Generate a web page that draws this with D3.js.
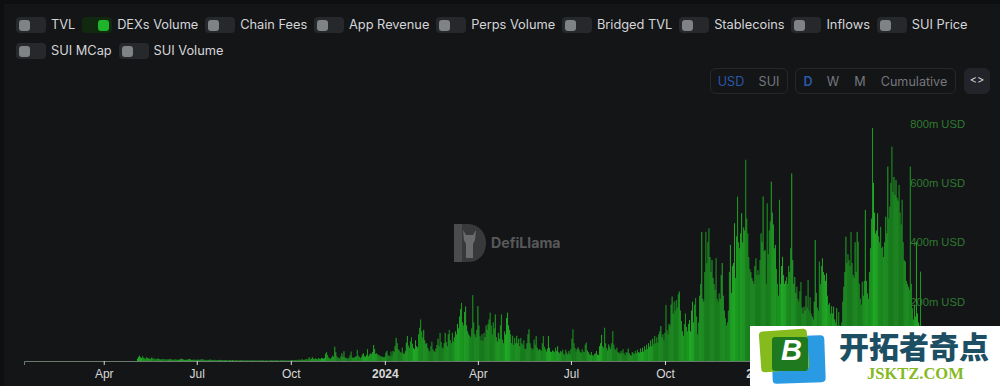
<!DOCTYPE html>
<html><head><meta charset="utf-8">
<script src="https://cdn.jsdelivr.net/npm/d3@7/dist/d3.min.js"></script>
<style>
html,body{margin:0;padding:0;background:#0e0f11;width:1000px;height:386px;overflow:hidden}
#page{position:absolute;left:4px;top:4px;width:996px;height:382px;background:#141517}
#legend{position:absolute;left:16px;top:17px;width:975px;display:flex;flex-wrap:wrap;column-gap:6.8px;row-gap:10px;font:12.8px/16px Inter,sans-serif;color:#d4d6da}
.item{display:flex;align-items:center;gap:5px;height:16px}
.track{width:30px;height:16px;border-radius:4px;background:#26282b;position:relative}
.knob{position:absolute;left:3px;top:2.5px;width:11px;height:11px;border-radius:3px;background:#808386}
.on .track{background:#10290f}.on .knob{left:16px;background:#1fb52a}
.grp{position:absolute;top:68px;height:26px;box-sizing:border-box;border:1px solid #26282c;border-radius:6px}
.btn{position:absolute;top:0;font:12.6px/25px Inter,sans-serif;color:#74777c;transform:translateX(-50%);white-space:nowrap}
.btn.sel{color:#2a58a8}
#code{position:absolute;left:964px;top:68px;width:26px;height:26px;border-radius:6px;background:#22242a;color:#d4d6da;font:11px/25px Inter,sans-serif;text-align:center}
svg{position:absolute;left:0;top:0}
</style></head><body>
<div id="page"></div>
<div id="legend"></div>
<div class="grp" style="left:710px;width:78px"><span class="btn sel" style="left:20px">USD</span><span class="btn" style="left:58px">SUI</span></div>
<div class="grp" style="left:795px;width:161px"><span class="btn sel" style="left:12px;font-weight:600">D</span><span class="btn" style="left:37px">W</span><span class="btn" style="left:64px">M</span><span class="btn" style="left:118px">Cumulative</span></div>
<div id="code">&lt;&gt;</div>
<svg id="chart" width="1000" height="386"></svg>
<script>
const legendNames=["TVL","DEXs Volume","Chain Fees","App Revenue","Perps Volume","Bridged TVL","Stablecoins","Inflows","SUI Price","SUI MCap","SUI Volume"];
const activeSeries=["DEXs Volume"];
const yTicks=[200,400,600,800];
const xTickDates=["2023-04-01","2023-07-01","2023-10-01","2024-01-01","2024-04-01","2024-07-01","2024-10-01","2025-01-01","2025-04-01"];
// Daily DEX volume in million USD, one array per month
const v2305=[8,14,18,12,10,16,11,9,8,13,10,9,7,8,12,9,7,8,6,7,9,7,6,5,6,7,6,5];
const v2306=[6,5,5,6,7,5,4,5,4,6,5,4,4,5,6,8,6,5,4,4,5,4,6,7,5,4,4,5,4,4];
const v2307=[4,5,4,4,5,6,5,4,4,3,4,3,4,5,4,3,3,4,4,3,3,3,4,3,3,3,2,3,3,3,2];
const v2308=[2,3,2,2,3,2,2,2,3,2,2,2,2,3,2,2,2,2,3,2,2,2,2,2,2,2,2,2,2,2,2];
const v2309=[2,2,2,2,1,2,2,2,1,2,2,2,2,1,2,2,2,2,2,1,2,2,2,2,2,2,2,2,2,2];
const v2310=[2,3,3,2,3,4,3,3,5,3,4,6,4,3,5,7,4,8,13,6,7,13,8,6,9,7,6,10,8,7,11];
const v2311=[9,8,10,25,30,20,12,9,8,12,18,14,48,30,16,12,10,9,16,26,14,33,12,10,9,8,12,20,32,12];
const v2312=[10,12,14,16,38,18,14,10,14,22,26,16,14,20,40,16,22,26,24,30,54,40,24,26,22,20,18,16,15,14,12];
const v2401=[14,28,34,20,18,16,32,18,34,30,50,78,60,40,36,30,28,45,26,24,34,62,84,52,44,66,80,58,44,40,70];
const v2402=[50,46,90,112,140,100,80,105,70,58,60,44,36,32,50,65,40,34,30,42,54,75,50,95,64,46,42,60,95];
const v2403=[64,50,90,105,70,60,95,66,80,100,90,125,110,150,175,196,130,120,165,184,120,100,90,85,80,110,222,130,90,80,105];
const v2404=[185,120,84,70,90,68,95,80,120,105,125,140,163,120,90,130,110,157,80,66,95,75,120,157,72,60,100,90,145,163];
const v2405=[120,105,90,60,85,55,78,60,85,60,75,50,78,60,55,70,42,40,60,90,107,60,45,38,42,72,55,84,45,36,40];
const v2406=[38,34,60,84,48,40,32,42,84,45,32,30,36,34,30,45,34,50,30,26,34,30,38,24,22,38,28,22,34,24];
const v2407=[40,75,107,60,44,32,40,46,38,30,28,40,32,30,55,62,36,30,24,20,30,20,18,24,26,34,22,20,50,60,88];
const v2408=[50,45,112,60,44,36,56,48,40,60,101,55,40,38,45,30,28,24,34,26,40,26,20,30,28,42,26,20,18,30,26];
const v2409=[24,34,26,38,30,28,42,30,45,32,50,38,55,40,60,48,70,50,75,56,84,60,80,62,90,100,118,80,90,70];
const v2410=[95,189,105,90,125,120,190,217,160,200,170,205,180,225,234,170,135,100,85,125,160,115,100,125,138,100,170,200,130,190,212];
const v2411=[150,90,130,220,260,435,210,200,300,435,330,400,447,350,300,340,280,260,240,347,210,200,228,210,290,330,220,170,145,120];
const v2412=[130,170,300,391,230,320,330,464,280,420,554,400,380,430,498,400,450,440,678,480,430,350,310,300,280,270,260,320,346,290,306];
const v2501=[290,340,430,400,554,370,374,260,531,360,440,470,604,500,460,380,391,310,260,220,543,260,320,351,290,260,270,283,260,320,300];
const v2502=[380,632,340,260,283,230,250,210,200,235,266,180,160,183,170,220,180,273,170,215,160,150,140,200,408,230,180,170];
const v2503=[335,260,320,346,300,290,270,296,220,190,195,160,185,160,183,140,130,178,120,165,120,100,130,200,250,300,419,330,360,340,320];
const v2504=[435,330,290,280,400,300,435,402,260,210,190,267,220,270,509,270,228,210,300,380,480,785,600,500,430,440,498,420,400,452];
const v2505=[380,385,350,400,486,430,655,480,520,600,722,570,620,560,610,550,540,593,500,460,543,400,340,335,270,260,250,240,655,260,178];
const v2506=[140,190,150,402,160,130,120,301,110,90];
const monthly=[["2023-05-04",v2305],["2023-06-01",v2306],["2023-07-01",v2307],["2023-08-01",v2308],["2023-09-01",v2309],["2023-10-01",v2310],["2023-11-01",v2311],["2023-12-01",v2312],["2024-01-01",v2401],["2024-02-01",v2402],["2024-03-01",v2403],["2024-04-01",v2404],["2024-05-01",v2405],["2024-06-01",v2406],["2024-07-01",v2407],["2024-08-01",v2408],["2024-09-01",v2409],["2024-10-01",v2410],["2024-11-01",v2411],["2024-12-01",v2412],["2025-01-01",v2501],["2025-02-01",v2502],["2025-03-01",v2503],["2025-04-01",v2504],["2025-05-01",v2505],["2025-06-01",v2506]];
const series=monthly.flatMap(([s,a])=>a.map((v,i)=>({date:d3.utcDay.offset(new Date(s+"T00:00:00Z"),i),value:v})));

const items=d3.select("#legend").selectAll(".item").data(legendNames).join("div")
  .attr("class",d=>"item"+(activeSeries.includes(d)?" on":""));
items.append("div").attr("class","track").append("div").attr("class","knob");
items.append("span").text(d=>d);

const svg=d3.select("#chart");
const x=d3.scaleUtc().domain([new Date("2023-01-13T00:00:00Z"),new Date("2025-06-11T00:00:00Z")]).range([24,923.6]);
const y=d3.scaleLinear().domain([0,800]).range([361,123.5]);
const step=x(new Date("2024-01-02T00:00:00Z"))-x(new Date("2024-01-01T00:00:00Z"));

const wm=svg.append("g");
wm.append("path").attr("d","M454 224H468C480 224 486 234 486 243C486 253 480 262 468 262H454Z").attr("fill","#38393b");
wm.append("path").attr("d","M454 224H462V262H454Z").attr("fill","#4b4c4e");
wm.append("path").attr("d","M463 230L466 235H473L476 230L475 240L473 244V258H466V244L464 240Z").attr("fill","#6a6b6d");
wm.append("text").attr("x",491).attr("y",248).attr("font-family","Inter,sans-serif").attr("font-weight",700).attr("font-size",14.2).attr("fill","#58595b").text("DefiLlama");

const xAxis=d3.axisBottom(x).tickValues(xTickDates.map(d=>new Date(d+"T00:00:00Z"))).tickSize(4).tickPadding(4)
  .tickFormat(d=>d.getUTCMonth()===0?d.getUTCFullYear():d3.utcFormat("%b")(d));
const gx=svg.append("g").attr("transform","translate(0,361)").call(xAxis);
gx.select(".domain").attr("stroke","#6a7a6c").attr("stroke-width",1);
gx.selectAll(".tick line").attr("stroke","#d8d8d8");
gx.selectAll(".tick text").attr("fill","#d8d8d8").attr("font-family","'Liberation Sans',Arial,sans-serif").attr("font-size",12)
  .attr("font-weight",d=>d.getUTCMonth()===0?700:400);

svg.append("g").selectAll("rect").data(series).join("rect")
  .attr("x",d=>x(d.date)-step/2).attr("width",step)
  .attr("y",d=>y(d.value)).attr("height",d=>y(0)-y(d.value))
  .attr("fill",(d,i)=>Math.floor(i/5)%2?"#1b9a20":"#22a827");

const yAxis=d3.axisLeft(y).tickValues(yTicks).tickSize(0).tickPadding(0).tickFormat(d=>d+"m USD");
const gy=svg.append("g").attr("transform","translate(965,0)").call(yAxis);
gy.select(".domain").remove();
gy.selectAll("text").attr("fill","#2f7a30").attr("font-family","'Liberation Sans',Arial,sans-serif").attr("font-size",11.2);

const st=svg.append("g");
st.append("rect").attr("x",750).attr("y",326).attr("width",250).attr("height",60).attr("fill","#fff");
st.append("rect").attr("x",772).attr("y",336).attr("width",53).attr("height",47).attr("rx",4).attr("fill","#2a9ae2").attr("transform","rotate(-2 798 360)");
st.append("rect").attr("x",760).attr("y",330).attr("width",48).attr("height",41).attr("rx",4).attr("fill","#86bb1e").attr("transform","rotate(-4 784 350)");
st.append("rect").attr("x",772).attr("y",337).attr("width",36).attr("height",34).attr("rx",3).attr("fill","#1f7a1f");
st.append("text").attr("x",781).attr("y",360).attr("font-family","'Liberation Sans',Arial,sans-serif").attr("font-weight",700).attr("font-style","italic").attr("font-size",29).attr("fill","#fff").text("B");
st.append("text").attr("x",839).attr("y",358).attr("font-family","'Noto Sans CJK SC',sans-serif").attr("font-weight",900).attr("font-size",30).attr("fill","#1c4f63").text("开拓者奇点");
st.append("text").attr("x",867).attr("y",379).attr("font-family","'Liberation Serif',serif").attr("font-weight",700).attr("font-size",16.5).attr("fill","#86b81f").text("JSKTZ.COM");
</script></body></html>
